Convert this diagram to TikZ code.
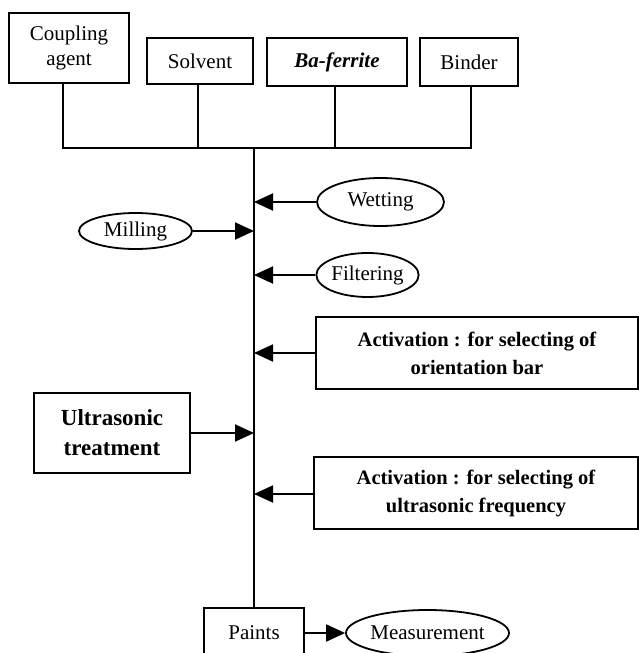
\documentclass[tikz,border=0pt]{standalone}
\usepackage{fontspec}
\setmainfont{Liberation Serif}
\usetikzlibrary{shapes.geometric,arrows.meta}
\tikzset{
  box/.style={draw, line width=1.8pt, inner sep=0pt, align=center, font=\fontsize{21}{25}\selectfont},
  oval/.style={draw, ellipse, line width=1.8pt, inner sep=0pt, font=\fontsize{21}{24}\selectfont},
  actbox/.style={draw, line width=1.8pt, inner sep=0pt, align=center, font=\fontsize{20.5}{28}\selectfont\bfseries},
  link/.style={line width=1.8pt},
  feed/.style={line width=1.9pt, -{Triangle[length=19pt,width=17pt]}},
}
\begin{document}
\begin{tikzpicture}[x=1pt,y=-1pt]
\useasboundingbox (0,0) rectangle (639,653);
\clip (0,0) rectangle (639,653);
% source boxes
\node[box, minimum width=120pt, minimum height=70pt] (coup) at (69,48) {Coupling\\agent};
\node[box, minimum width=106pt, minimum height=46pt] (solv) at (200,61) {Solvent};
\node[box, minimum width=140pt, minimum height=48pt, font=\fontsize{21}{24}\selectfont\bfseries\itshape] (baf) at (337,62) {Ba-ferrite};
\node[box, minimum width=98pt, minimum height=48pt] (bind) at (469,62) {Binder};
% bus
\coordinate (bl) at (63,148);
\coordinate (br) at (471,148);
\coordinate (top) at (254,148);
\draw[link] ([xshift=-6pt]coup.south) -- (bl) -- (br) -- ([xshift=2pt]bind.south);
\draw[link] ([xshift=-2pt]solv.south) -- ([xshift=-2pt]solv.south |- bl);
\draw[link] ([xshift=-2pt]baf.south) -- ([xshift=-2pt]baf.south |- bl);
% process nodes
\node[oval, minimum width=127pt, minimum height=48pt] (wet) at (380.5,202) {Wetting};
\node[oval, minimum width=113pt, minimum height=36pt] (mill) at (135.5,231) {Milling};
\node[oval, minimum width=101pt, minimum height=44pt] (filt) at (367.5,275) {Filtering};
\node[actbox, minimum width=322pt, minimum height=72pt] (act1) at (477,353) {Activation : for selecting of\\orientation bar};
\node[box, minimum width=156pt, minimum height=80pt, font=\fontsize{23}{30}\selectfont\bfseries] (ultra) at (112,433) {Ultrasonic\\treatment};
\node[actbox, minimum width=324pt, minimum height=72pt] (act2) at (476,493) {Activation : for selecting of\\ultrasonic frequency};
\node[box, minimum width=100pt, minimum height=50pt] (paint) at (254,633) {Paints};
\node[oval, minimum width=163pt, minimum height=46pt] (meas) at (427.5,633) {Measurement};
% main line
\draw[link] (top) -- (paint.north);
% feeds
\draw[feed] (wet.west) -- (wet.west -| top);
\draw[feed] (mill.east) -- (mill.east -| top);
\draw[feed] (filt.west) -- (filt.west -| top);
\draw[feed] (act1.west) -- (act1.west -| top);
\draw[feed] (ultra.east) -- (ultra.east -| top);
\draw[feed] ([yshift=-1pt]act2.west) -- ([yshift=-1pt]act2.west -| top);
\draw[feed] (paint.east) -- (meas.west);
\end{tikzpicture}
\end{document}
